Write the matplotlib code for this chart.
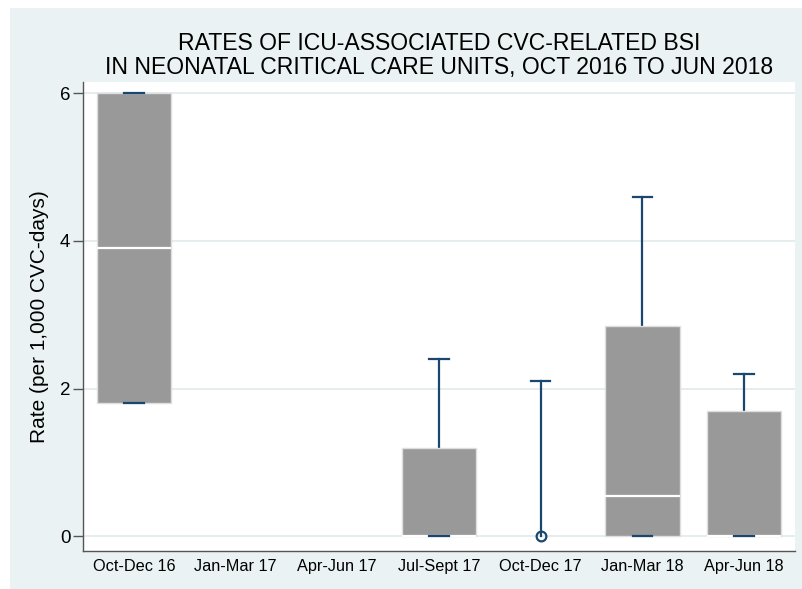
import matplotlib
matplotlib.use("Agg")
import matplotlib.pyplot as plt
from matplotlib.patches import Rectangle
import numpy as np

categories = ["Oct-Dec 16", "Jan-Mar 17", "Apr-Jun 17", "Jul-Sept 17",
              "Oct-Dec 17", "Jan-Mar 18", "Apr-Jun 18"]
q1 = [1.8, np.nan, np.nan, 0.0, 0.0, 0.0, 0.0]
median = [3.9, np.nan, np.nan, 0.0, 0.0, 0.55, 0.0]
q3 = [6.0, np.nan, np.nan, 1.2, 0.0, 2.85, 1.7]
whisker_lo = [1.8, np.nan, np.nan, 0.0, 0.0, 0.0, 0.0]
whisker_hi = [6.0, np.nan, np.nan, 2.4, 2.1, 4.6, 2.2]
outliers = [[], [], [], [], [0.0], [], []]
yticks = [0, 2, 4, 6]

plt.rcParams["font.family"] = ["Liberation Sans", "DejaVu Sans"]

BG = "#eaf2f3"
NAVY = "#1a476f"

fig = plt.figure(figsize=(8.03, 5.89), dpi=100)
fig.patch.set_facecolor("white")
fig.add_artist(Rectangle((10 / 803, 0), 1 - 10 / 803, 1 - 8 / 589,
                         transform=fig.transFigure, facecolor=BG,
                         edgecolor="none", zorder=0))

ax = fig.add_axes([83 / 803, 1 - 551 / 589, (795 - 83) / 803, (551 - 82) / 589])
ax.set_facecolor("white")

stats = []
positions = []
for i in range(len(categories)):
    if np.isnan(q1[i]):
        continue
    stats.append(dict(med=median[i], q1=q1[i], q3=q3[i],
                      whislo=whisker_lo[i], whishi=whisker_hi[i],
                      fliers=outliers[i], label=categories[i]))
    positions.append(i)

res = ax.bxp(stats, positions=positions, widths=0.73, patch_artist=True,
             showfliers=True, capwidths=0.19,
             boxprops=dict(facecolor="#999999", edgecolor="#dedede", linewidth=1.0),
             medianprops=dict(color="white", linewidth=1.6),
             whiskerprops=dict(color=NAVY, linewidth=1.6),
             capprops=dict(color=NAVY, linewidth=1.6),
             flierprops=dict(marker="o", markerfacecolor="none",
                             markeredgecolor=NAVY, markersize=7,
                             markeredgewidth=1.6))
for b in res["boxes"]:
    b.set_zorder(3)
for m in res["medians"]:
    m.set_zorder(4)
for c in res["caps"]:
    c.set_zorder(5)
# degenerate box (Oct-Dec 17): hide zero-length lower cap under the marker
idx = positions.index(4)
res["caps"][2 * idx].set_visible(False)
res["boxes"][idx].set_visible(False)
res["medians"][idx].set_visible(False)

ax.set_xlim(-0.5, 6.5)
ax.set_ylim(-0.2, 6.153)
ax.set_xticks(range(len(categories)))
ax.set_xticklabels(categories)
ax.set_yticks(yticks)
ax.set_yticklabels([str(t) for t in yticks])
ax.tick_params(axis="x", length=0, pad=6, labelsize=11.7)
ax.tick_params(axis="y", length=7, width=1.0, color="#555555", pad=2, labelsize=13.5)
ax.grid(axis="y", color="#e3ecee", linewidth=1.3, zorder=0)
ax.set_axisbelow(True)

for s in ["top", "right"]:
    ax.spines[s].set_visible(False)
for s in ["left", "bottom"]:
    ax.spines[s].set_color("#555555")
    ax.spines[s].set_linewidth(1.0)

ax.set_ylabel("Rate (per 1,000 CVC-days)", fontsize=15, labelpad=8)
ax.set_title("RATES OF ICU-ASSOCIATED CVC-RELATED BSI\nIN NEONATAL CRITICAL CARE UNITS, OCT 2016 TO JUN 2018",
             fontsize=16.6, pad=6, linespacing=1.05)

fig.savefig("out.png", dpi=100, facecolor=fig.get_facecolor())
